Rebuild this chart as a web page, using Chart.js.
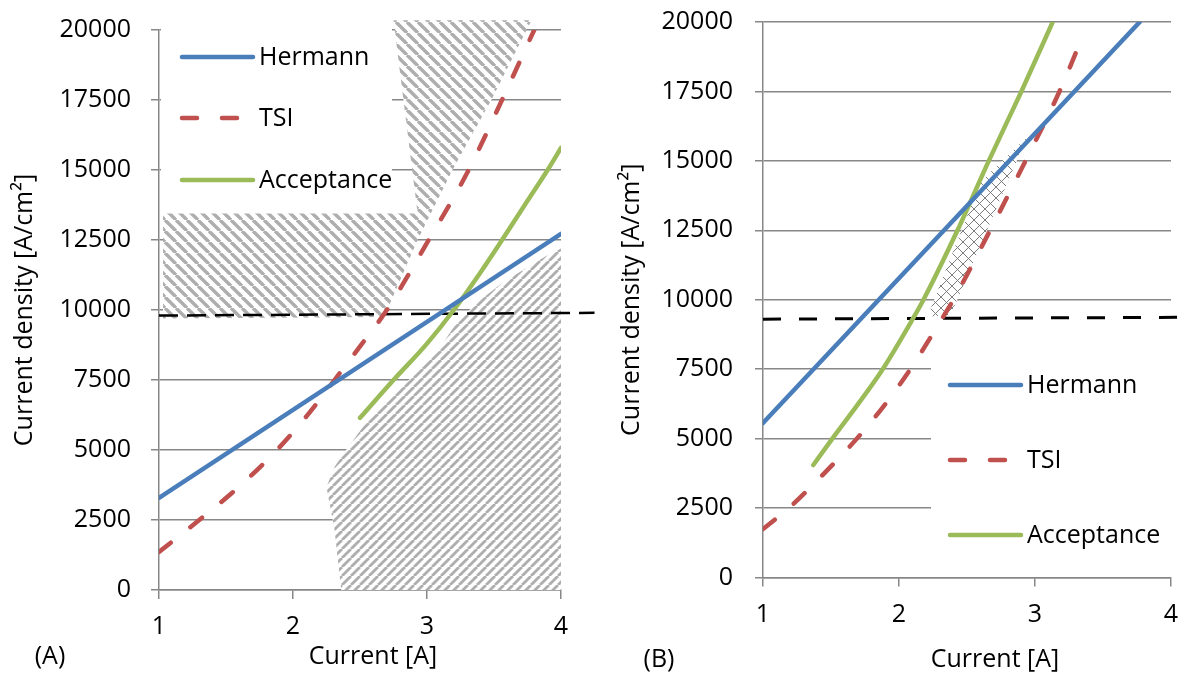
<!DOCTYPE html>
<html><head><meta charset="utf-8">
<script src="https://cdn.jsdelivr.net/npm/chart.js@4.4.1/dist/chart.umd.min.js"></script>
<style>
html,body{margin:0;padding:0;background:#fff;overflow:hidden;width:1187px;height:673px}
#wa{position:absolute;left:0;top:0;width:600px;height:673px}
#wb{position:absolute;left:600px;top:0;width:587px;height:673px}
</style></head><body>
<div id="wa"><canvas id="ca" width="600" height="673"></canvas></div>
<div id="wb"><canvas id="cb" width="587" height="673"></canvas></div>
<script>
// ---------- data ----------
const yTickValues = [0, 2500, 5000, 7500, 10000, 12500, 15000, 17500, 20000];
const xTickValues = [1, 2, 3, 4];
const seriesNames = ['Hermann', 'TSI', 'Acceptance'];

// Panel (A)
const aHermannX = [1, 4];
const aHermannY = [3290, 12720];
const aTsiX = [1, 1.3, 1.6, 1.88, 2.1, 2.31, 2.5, 2.7, 3.0, 3.3, 3.55, 3.8];
const aTsiY = [1360, 2500, 3700, 5000, 6200, 7500, 8700, 10000, 12400, 14900, 17400, 20000];
const aAccX = [2.5, 2.75, 3.0, 3.2, 3.4, 3.56, 3.75, 3.9, 4.0];
const aAccY = [6150, 7500, 8800, 10000, 11350, 12500, 13900, 15000, 15790];
const aCutX = [1, 4.25];
const aCutY = [9800, 9900];
const aUpperHatchX = [1.03, 1.03, 2.93, 2.75, 3.78, 3.48, 3.19, 2.93, 2.68];
const aUpperHatchY = [9700, 13450, 13450, 20350, 20350, 17500, 15000, 12500, 9750];
const aLowerHatchX = [2.36, 2.31, 2.25, 2.31, 2.38, 2.56, 2.81, 3.07, 3.22, 3.37, 3.57, 3.88, 4.0, 4.0];
const aLowerHatchY = [0, 2150, 3680, 4390, 4890, 6070, 7250, 8460, 9540, 10250, 11000, 11900, 12200, 0];

// Panel (B)
const bHermannX = [1, 3.77];
const bHermannY = [5560, 20000];
const bTsiX = [1, 1.19, 1.45, 1.69, 1.9, 2.09, 2.32, 2.4, 2.67, 2.93, 3.18, 3.36];
const bTsiY = [1745, 2500, 3750, 5000, 6250, 7550, 9350, 10000, 12500, 15000, 17500, 19600];
const bAccX = [1.37, 1.51, 1.7, 1.88, 2.1, 2.18, 2.43, 2.66, 2.9, 3.13];
const bAccY = [4050, 5000, 6250, 7500, 9300, 10000, 12500, 15000, 17500, 20000];
const bCutX = [1, 4.12];
const bCutY = [9300, 9370];
const bCrossX = [2.21, 2.60, 2.94, 2.38];
const bCrossY = [9400, 14250, 15850, 9450];

// ---------- styling ----------
const FONT_FAMILY = "'Open Sans', 'Noto Sans', sans-serif";
const FONT = "25px " + FONT_FAMILY;
const GRID = '#878787';
const BLUE = '#4a7ebb', RED = '#c0504d', GREEN = '#9bbb59';
Chart.defaults.font.family = FONT_FAMILY;
Chart.defaults.font.size = 25;
Chart.defaults.color = '#000';

const pts = (xs, ys) => xs.map((x, i) => ({x: x, y: ys[i]}));

function makePattern(ctx, kind) {
  const c = document.createElement('canvas');
  const P = kind === 'back' ? 11 : (kind === 'fwd' ? 9 : 11);
  c.width = P; c.height = P;
  const g = c.getContext('2d');
  g.fillStyle = '#fff'; g.fillRect(0, 0, P, P);
  if (kind === 'back' || kind === 'fwd') {
    g.strokeStyle = '#aeaeae';
    g.lineWidth = kind === 'back' ? 3.4 : 2.8;
    for (const k of [-1, 0, 1]) {
      g.beginPath();
      if (kind === 'back') { g.moveTo(k * P, 0); g.lineTo(k * P + P, P); }
      else { g.moveTo(k * P, P); g.lineTo(k * P + P, 0); }
      g.stroke();
    }
  } else {
    g.strokeStyle = '#6e6e6e';
    g.lineWidth = 0.9;
    for (const k of [-1, 0, 1]) {
      g.beginPath(); g.moveTo(k * P, 0); g.lineTo(k * P + P, P); g.stroke();
      g.beginPath(); g.moveTo(k * P, P); g.lineTo(k * P + P, 0); g.stroke();
    }
  }
  return ctx.createPattern(c, 'repeat');
}

function hatchPlugin(polys) {
  return {
    id: 'hatch',
    beforeDatasetsDraw(chart) {
      const ctx = chart.ctx, sx = chart.scales.x, sy = chart.scales.y;
      polys.forEach(p => {
        ctx.save();
        ctx.beginPath();
        p.xs.forEach((v, i) => {
          const px = sx.getPixelForValue(v), py = sy.getPixelForValue(p.ys[i]);
          if (i) ctx.lineTo(px, py); else ctx.moveTo(px, py);
        });
        ctx.closePath();
        ctx.fillStyle = makePattern(ctx, p.kind);
        ctx.fill();
        ctx.restore();
      });
    }
  };
}

function legendPlugin(cfg) {
  return {
    id: 'boxLegend',
    beforeDatasetsDraw(chart) {
      const ctx = chart.ctx;
      ctx.save();
      ctx.fillStyle = '#fff';
      ctx.fillRect(cfg.box[0], cfg.box[1], cfg.box[2], cfg.box[3]);
      chart.data.datasets.forEach(ds => {
        if (ds.legendRow == null) return;
        const y = cfg.rows[ds.legendRow];
        ctx.beginPath();
        ctx.strokeStyle = ds.borderColor;
        ctx.lineWidth = ds.borderWidth;
        ctx.lineCap = 'round';
        ctx.setLineDash(ds.borderDash || []);
        ctx.moveTo(cfg.x0, y); ctx.lineTo(cfg.x1, y); ctx.stroke();
        ctx.setLineDash([]);
        ctx.fillStyle = '#000';
        ctx.font = FONT;
        ctx.textAlign = 'left';
        ctx.textBaseline = 'middle';
        ctx.fillText(ds.label, cfg.tx, y + 1);
      });
      ctx.restore();
    }
  };
}

function textPlugin(items) {
  return {
    id: 'texts',
    afterDraw(chart) {
      const ctx = chart.ctx;
      ctx.save();
      ctx.fillStyle = '#000';
      ctx.font = FONT;
      ctx.textAlign = 'center';
      ctx.textBaseline = 'middle';
      items.forEach(t => ctx.fillText(t.text, t.x, t.y));
      ctx.restore();
    }
  };
}

function lineDs(label, xs, ys, color, row, dash, smooth) {
  return {
    label: label, data: pts(xs, ys), showLine: true,
    borderColor: color, backgroundColor: color, borderWidth: 4.5,
    borderDash: dash || [], borderCapStyle: 'round', borderJoinStyle: 'round',
    pointRadius: 0, pointHoverRadius: 0, fill: false,
    cubicInterpolationMode: smooth ? 'monotone' : 'default', tension: 0,
    legendRow: row
  };
}

function cutDs(xs, ys, width, dash) {
  return {
    label: 'limit', data: pts(xs, ys), showLine: true,
    borderColor: '#000', borderWidth: width, borderDash: dash,
    pointRadius: 0, pointHoverRadius: 0, fill: false, clip: false
  };
}

function scalesFor(c) {
  return {
    x: {
      type: 'linear', min: 1, max: 4,
      afterBuildTicks: s => { s.ticks = xTickValues.map(v => ({value: v})); },
      ticks: {padding: c.xPad, font: {size: 25}, color: '#000'},
      grid: {drawOnChartArea: false, drawTicks: true, tickLength: 9, color: GRID, lineWidth: 1.5},
      border: {color: GRID, width: 1.5},
      afterFit: s => { s.height = c.xH; s.paddingLeft = 0; s.paddingRight = 8; }
    },
    y: {
      type: 'linear', min: 0, max: 20000,
      afterBuildTicks: s => { s.ticks = yTickValues.map(v => ({value: v})); },
      ticks: {padding: c.yPad, font: {size: 25}, color: '#000', callback: v => String(v)},
      grid: {color: GRID, lineWidth: 1.5, tickLength: 8},
      border: {color: GRID, width: 1.5},
      title: {display: true, text: 'Current density [A/cm\u00B2]', font: {size: 25}, color: '#000', padding: {top: c.tPad, bottom: 0}},
      afterFit: s => { s.width = c.yW; s.paddingTop = 12; s.paddingBottom = 12; }
    }
  };
}

const dashTSI = [15, 25];

new Chart(document.getElementById('ca'), {
  type: 'scatter',
  data: {datasets: [
    lineDs(seriesNames[0], aHermannX, aHermannY, BLUE, 0, null, false),
    lineDs(seriesNames[1], aTsiX, aTsiY, RED, 1, dashTSI, true),
    lineDs(seriesNames[2], aAccX, aAccY, GREEN, 2, null, true),
    cutDs(aCutX, aCutY, 2.5, [19, 9])
  ]},
  options: {
    responsive: false, animation: false, events: [], devicePixelRatio: 1,
    layout: {padding: {left: 0, right: 39, top: 30, bottom: 0}},
    scales: scalesFor({xPad: 13, xH: 83, yPad: 20, yW: 159, tPad: 10}),
    plugins: {legend: {display: false}, tooltip: {enabled: false}}
  },
  plugins: [
    hatchPlugin([
      {xs: aUpperHatchX, ys: aUpperHatchY, kind: 'back'},
      {xs: aLowerHatchX, ys: aLowerHatchY, kind: 'fwd'}
    ]),
    legendPlugin({box: [161, 24, 231, 186], rows: [57, 118, 180], x0: 182, x1: 253, tx: 259}),
    textPlugin([{text: 'Current [A]', x: 373, y: 657}, {text: '(A)', x: 50, y: 657}])
  ]
});

new Chart(document.getElementById('cb'), {
  type: 'scatter',
  data: {datasets: [
    lineDs(seriesNames[0], bHermannX, bHermannY, BLUE, 0, null, false),
    lineDs(seriesNames[1], bTsiX, bTsiY, RED, 1, dashTSI, true),
    lineDs(seriesNames[2], bAccX, bAccY, GREEN, 2, null, true),
    cutDs(bCutX, bCutY, 3, [18, 18])
  ]},
  options: {
    responsive: false, animation: false, events: [], devicePixelRatio: 1,
    layout: {padding: {left: 0, right: 16, top: 22, bottom: 0}},
    scales: scalesFor({xPad: 13, xH: 95.5, yPad: 22, yW: 163, tPad: 17}),
    plugins: {legend: {display: false}, tooltip: {enabled: false}}
  },
  plugins: [
    hatchPlugin([{xs: bCrossX, ys: bCrossY, kind: 'cross'}]),
    legendPlugin({box: [331, 340, 256, 234], rows: [385, 460, 535], x0: 350, x1: 421, tx: 427}),
    textPlugin([{text: 'Current [A]', x: 395, y: 660}, {text: '(B)', x: 59, y: 660}])
  ]
});
</script>
</body></html>
